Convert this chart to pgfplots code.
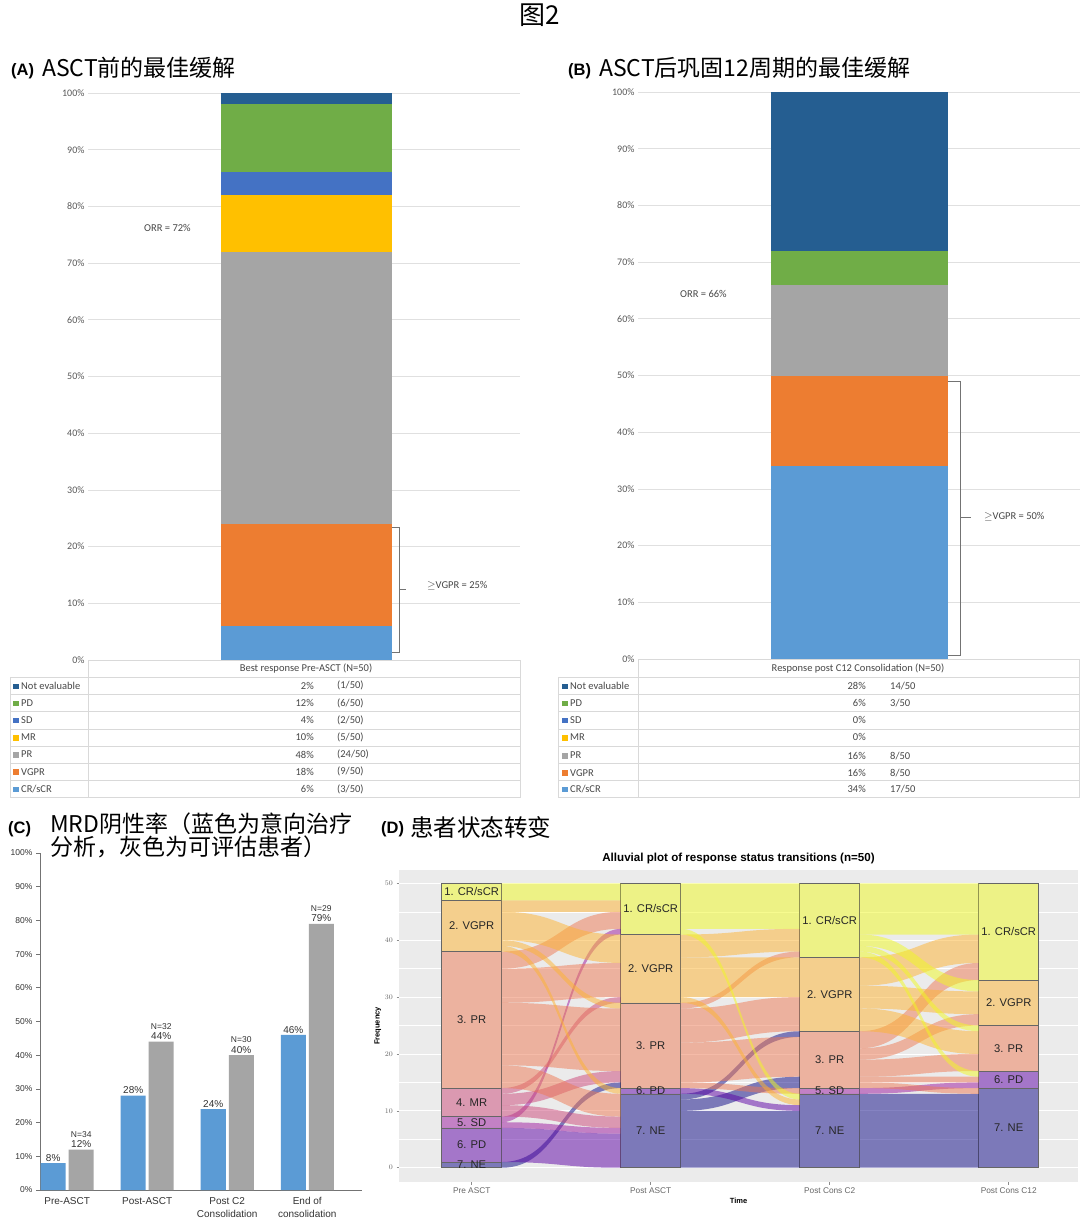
\documentclass[border=0pt]{standalone}
\usepackage{pgfplots}
\pgfplotsset{compat=1.18}
\usepackage{fontspec}
\setmainfont{Liberation Sans}
\newfontfamily\calib{Carlito}
\newfontfamily\cjk{Noto Sans CJK SC}
\newcommand\fs[1]{\fontsize{#1}{#1}\selectfont}
% Excel colours
\definecolor{cNE}{HTML}{255E91}
\definecolor{cPD}{HTML}{70AD47}
\definecolor{cSD}{HTML}{4472C4}
\definecolor{cMR}{HTML}{FFC000}
\definecolor{cPR}{HTML}{A5A5A5}
\definecolor{cVG}{HTML}{ED7D31}
\definecolor{cCR}{HTML}{5B9BD5}
% plasma colours
\definecolor{ggbg}{HTML}{EBEBEB}
\definecolor{pNE}{HTML}{0D0887}
\definecolor{pPD}{HTML}{5D01A6}
\definecolor{pSD}{HTML}{9C179E}
\definecolor{pMR}{HTML}{CC4778}
\definecolor{pPR}{HTML}{ED7953}
\definecolor{pVG}{HTML}{FDB32F}
\definecolor{pCR}{HTML}{F0F921}
\colorlet{sNE}{pNE!50!ggbg}
\colorlet{sPD}{pPD!50!ggbg}
\colorlet{sSD}{pSD!50!ggbg}
\colorlet{sMR}{pMR!50!ggbg}
\colorlet{sPR}{pPR!50!ggbg}
\colorlet{sVG}{pVG!50!ggbg}
\colorlet{sCR}{pCR!50!ggbg}
\tikzset{slab/.style={font=\fs{11.2}, text=black!85, inner sep=0pt}}

% table row: xname, xpct, xfrac, y, colour, name, pct, frac
\newcommand\trow[8]{%
 \node[anchor=west, font=\calib\fs{10.5}, text=black!72, inner sep=0] at (#1pt,-#4pt) {\textcolor{#5}{\rule[0.2pt]{5.5pt}{5.5pt}}\hspace{2.5pt}#6};
 \node[anchor=east, font=\calib\fs{10.5}, text=black!72, inner sep=0] at (#2pt,-#4pt) {#7};
 \node[anchor=west, font=\calib\fs{10.5}, text=black!72, inner sep=0] at (#3pt,-#4pt) {#8};}

% alluvial flow: x1, xmid, x2, src bottom, src top, dst bottom, dst top, colour
\newcommand\flowgen[8]{%
 \fill[#8, fill opacity=0.5] (axis cs:#1,#4) .. controls (axis cs:#2,#4) and (axis cs:#2,#6) .. (axis cs:#3,#6) -- (axis cs:#3,#7) .. controls (axis cs:#2,#7) and (axis cs:#2,#5) .. (axis cs:#1,#5) -- cycle;}
\newcommand\fA[5]{\flowgen{1.1676}{1.5}{1.8324}{#1}{#2}{#3}{#4}{#5}}
\newcommand\fB[5]{\flowgen{2.1676}{2.5}{2.8324}{#1}{#2}{#3}{#4}{#5}}
\newcommand\fC[5]{\flowgen{3.1676}{3.5}{3.8324}{#1}{#2}{#3}{#4}{#5}}
% stratum label placed in panel D's frame (stage, frequency, text)
\newcommand\dlab[3]{\node[slab] at ({(399+(#1-0.594)*179.02)*1pt},{(-1182+(#2+2.51)*5.688)*1pt}) {#3};}

\begin{document}
\begin{tikzpicture}
\path[fill=white, use as bounding box] (0,0) rectangle (1080pt,-1223pt);

\node[font=\cjk\fs{26}] at (540pt,-15pt) {图2};

%================ Panel A =================
\node[anchor=west, font=\bfseries\fs{16.5}, inner sep=0] at (11pt,-71pt) {(A)};
\node[anchor=west, font=\cjk\fs{23}, inner sep=0] at (42pt,-68pt) {ASCT前的最佳缓解};

\begin{axis}[at={(88pt,-660pt)}, anchor=south west, scale only axis,
  width=432pt, height=567pt, xmin=0, xmax=1, ymin=0, ymax=100,
  ybar stacked, bar width=171pt,
  xtick=\empty, ytick={0,10,...,100},
  yticklabels={0\%,10\%,20\%,30\%,40\%,50\%,60\%,70\%,80\%,90\%,100\%},
  axis line style={draw=none}, major tick length=0pt,
  ymajorgrids, grid style={black!12, line width=0.7pt},
  yticklabel style={font=\calib\fs{10}, text=black!65}, clip=false]
\addplot[fill=cCR, draw=none] coordinates {(0.506,6)};
\addplot[fill=cVG, draw=none] coordinates {(0.506,18)};
\addplot[fill=cPR, draw=none] coordinates {(0.506,48)};
\addplot[fill=cMR, draw=none] coordinates {(0.506,10)};
\addplot[fill=cSD, draw=none] coordinates {(0.506,4)};
\addplot[fill=cPD, draw=none] coordinates {(0.506,12)};
\addplot[fill=cNE, draw=none] coordinates {(0.506,2)};
\end{axis}
\draw[black!55, line width=0.6pt] (392pt,-527pt) -- (399pt,-527pt) -- (399pt,-652pt) -- (392pt,-652pt);
\draw[black!55, line width=0.6pt] (399pt,-589pt) -- (406pt,-589pt);
\node[anchor=west, font=\calib\fs{10.5}, text=black!72, inner sep=0] at (427pt,-586pt) {$\geq$VGPR = 25\%};
\node[anchor=west, font=\calib\fs{10.5}, text=black!72, inner sep=0] at (144pt,-228pt) {ORR = 72\%};

% table A
\draw[black!15, line width=0.6pt] (88pt,-660pt) -- (520pt,-660pt);
\foreach \k in {1,...,8} {\draw[black!15, line width=0.6pt] (10pt,{-660pt-17.2pt*\k}) -- (520pt,{-660pt-17.2pt*\k});}
\draw[black!15, line width=0.6pt] (10pt,-677.2pt) -- (10pt,-797.6pt);
\draw[black!15, line width=0.6pt] (88pt,-660pt) -- (88pt,-797.6pt);
\draw[black!15, line width=0.6pt] (520pt,-660pt) -- (520pt,-797.6pt);
\node[font=\calib\fs{10.5}, text=black!72, inner sep=0] at (306pt,-668.6pt) {Best response Pre-ASCT (N=50)};
\trow{13}{314}{337}{685.8}{cNE}{Not evaluable}{2\%}{(1/50)}
\trow{13}{314}{337}{703.0}{cPD}{PD}{12\%}{(6/50)}
\trow{13}{314}{337}{720.2}{cSD}{SD}{4\%}{(2/50)}
\trow{13}{314}{337}{737.4}{cMR}{MR}{10\%}{(5/50)}
\trow{13}{314}{337}{754.6}{cPR}{PR}{48\%}{(24/50)}
\trow{13}{314}{337}{771.8}{cVG}{VGPR}{18\%}{(9/50)}
\trow{13}{314}{337}{789.0}{cCR}{CR/sCR}{6\%}{(3/50)}

%================ Panel B =================
\node[anchor=west, font=\bfseries\fs{16.5}, inner sep=0] at (568pt,-71pt) {(B)};
\node[anchor=west, font=\cjk\fs{23}, inner sep=0] at (599pt,-68pt) {ASCT后巩固12周期的最佳缓解};

\begin{axis}[at={(638pt,-659pt)}, anchor=south west, scale only axis,
  width=442pt, height=567pt, xmin=0, xmax=1, ymin=0, ymax=100,
  ybar stacked, bar width=177pt,
  xtick=\empty, ytick={0,10,...,100},
  yticklabels={0\%,10\%,20\%,30\%,40\%,50\%,60\%,70\%,80\%,90\%,100\%},
  axis line style={draw=none}, major tick length=0pt,
  ymajorgrids, grid style={black!12, line width=0.7pt},
  yticklabel style={font=\calib\fs{10}, text=black!65}, clip=false]
\addplot[fill=cCR, draw=none] coordinates {(0.501,34)};
\addplot[fill=cVG, draw=none] coordinates {(0.501,16)};
\addplot[fill=cPR, draw=none] coordinates {(0.501,16)};
\addplot[fill=cMR, draw=none] coordinates {(0.501,0)};
\addplot[fill=cSD, draw=none] coordinates {(0.501,0)};
\addplot[fill=cPD, draw=none] coordinates {(0.501,6)};
\addplot[fill=cNE, draw=none] coordinates {(0.501,28)};
\end{axis}
\draw[black!55, line width=0.6pt] (948pt,-381pt) -- (960pt,-381pt) -- (960pt,-655pt) -- (948pt,-655pt);
\draw[black!55, line width=0.6pt] (960pt,-517pt) -- (971pt,-517pt);
\node[anchor=west, font=\calib\fs{10.5}, text=black!72, inner sep=0] at (984pt,-517pt) {$\geq$VGPR = 50\%};
\node[anchor=west, font=\calib\fs{10.5}, text=black!72, inner sep=0] at (680pt,-294pt) {ORR = 66\%};

% table B
\draw[black!15, line width=0.6pt] (638pt,-659pt) -- (1079pt,-659pt);
\foreach \k in {1,...,8} {\draw[black!15, line width=0.6pt] (558pt,{-660pt-17.2pt*\k}) -- (1079pt,{-660pt-17.2pt*\k});}
\draw[black!15, line width=0.6pt] (558pt,-677.2pt) -- (558pt,-797.6pt);
\draw[black!15, line width=0.6pt] (638pt,-659pt) -- (638pt,-797.6pt);
\draw[black!15, line width=0.6pt] (1079pt,-659pt) -- (1079pt,-797.6pt);
\node[font=\calib\fs{10.5}, text=black!72, inner sep=0] at (858pt,-668.6pt) {Response post C12 Consolidation (N=50)};
\trow{562}{866}{890}{685.8}{cNE}{Not evaluable}{28\%}{14/50}
\trow{562}{866}{890}{703.0}{cPD}{PD}{6\%}{3/50}
\trow{562}{866}{890}{720.2}{cSD}{SD}{0\%}{}
\trow{562}{866}{890}{737.4}{cMR}{MR}{0\%}{}
\trow{562}{866}{890}{755.6}{cPR}{PR}{16\%}{8/50}
\trow{562}{866}{890}{772.8}{cVG}{VGPR}{16\%}{8/50}
\trow{562}{866}{890}{789.0}{cCR}{CR/sCR}{34\%}{17/50}

%================ Panel C =================
\node[anchor=west, font=\bfseries\fs{16.5}, inner sep=0] at (8pt,-829pt) {(C)};
\node[anchor=north west, font=\cjk\fontsize{23}{21}\selectfont, align=left, inner sep=0] at (50pt,-813pt) {MRD阴性率（蓝色为意向治疗\\分析，灰色为可评估患者）};

\begin{axis}[at={(40pt,-1190pt)}, anchor=south west, scale only axis,
  width=322pt, height=337pt, xmin=-0.34, xmax=3.684, ymin=0, ymax=100,
  ybar=3pt, bar width=25pt,
  axis x line=bottom, axis y line=left,
  axis line style={-, draw=black!55, line width=0.8pt},
  xtick={0,1,2,3},
  xticklabels={Pre-ASCT, Post-ASCT, Post C2\\Consolidation, End of\\consolidation},
  xticklabel style={align=center, font=\fontsize{10}{12.5}\selectfont, text=black!80},
  x tick style={draw=none},
  ytick={0,10,...,100},
  yticklabels={0\%,10\%,20\%,30\%,40\%,50\%,60\%,70\%,80\%,90\%,100\%},
  yticklabel style={font=\fs{8.5}, text=black!80},
  y tick style={draw=black!55, line width=0.8pt}, tick align=outside, major tick length=4pt,
  nodes near coords, point meta=explicit symbolic,
  nodes near coords style={font=\fontsize{10}{10.5}\selectfont, text=black!80, align=center, inner sep=1.5pt},
  clip=false]
\addplot[fill=cCR, draw=none] coordinates {(0,8) [8\%] (1,28) [28\%] (2,24) [24\%] (3,46) [46\%]};
\addplot[fill=cPR, draw=none] coordinates {(0,12) [{\fs{8.5}N=34}\\12\%] (1,44) [{\fs{8.5}N=32}\\44\%] (2,40) [{\fs{8.5}N=30}\\40\%] (3,79) [{\fs{8.5}N=29}\\79\%]};
\end{axis}

%================ Panel D =================
\node[anchor=west, font=\bfseries\fs{16.5}, inner sep=0] at (381pt,-829pt) {(D)};
\node[anchor=west, font=\cjk\fs{23.5}, inner sep=0] at (410pt,-827pt) {患者状态转变};

\begin{axis}[at={(399pt,-1182pt)}, anchor=south west, scale only axis,
  width=679pt, height=312pt, xmin=0.594, xmax=4.387, ymin=-2.51, ymax=52.34,
  axis background/.style={fill=ggbg}, axis line style={draw=none},
  ybar stacked, bar width=60pt,
  xtick={1,2,3,4}, xticklabels={Pre ASCT,Post ASCT,Post Cons C2,Post Cons C12},
  ytick={0,10,...,50}, minor ytick={5,15,...,45},
  xtick pos=bottom, ytick pos=left,
  ymajorgrids, yminorgrids,
  major grid style={white, line width=0.9pt}, minor grid style={white, line width=0.45pt},
  tick align=outside, major tick length=2.5pt, minor tick length=0pt,
  tick style={draw=black!45, line width=0.5pt},
  ticklabel style={font=\fs{8.3}, text=black!60},
  yticklabel style={font=\fs{7.5}},
  xlabel={Time}, ylabel={Frequency},
  label style={font=\bfseries\fs{7.5}},
  xlabel style={yshift=3pt}, ylabel style={yshift=-3pt},
  title={Alluvial plot of response status transitions (n=50)},
  title style={font=\bfseries\fs{11.6}, yshift=-3pt}]
% Pre ASCT -> Post ASCT (source bottom, source top, target bottom, target top)
\fA{47}{50}{47}{50}{pCR}
\fA{45}{47}{45}{47}{pVG}
\fA{40}{45}{36}{41}{pVG}
\fA{39}{40}{28}{29}{pVG}
\fA{38}{39}{13}{14}{pVG}
\fA{35}{38}{42}{45}{pPR}
\fA{29}{35}{30}{36}{pPR}
\fA{18}{29}{17}{28}{pPR}
\fA{14}{18}{9}{13}{pPR}
\fA{13}{14}{29}{30}{pMR}
\fA{11}{13}{15}{17}{pMR}
\fA{9}{11}{7}{9}{pMR}
\fA{8}{9}{41}{42}{pSD}
\fA{7}{8}{6}{7}{pSD}
\fA{1}{7}{0}{6}{pPD}
\fA{0}{1}{14}{15}{pNE}
% Post ASCT -> Post Cons C2
\fB{42}{50}{42}{50}{pCR}
\fB{41}{42}{12}{13}{pCR}
\fB{37}{41}{38}{42}{pVG}
\fB{30}{37}{30}{37}{pVG}
\fB{29}{30}{11}{12}{pVG}
\fB{28}{29}{37}{38}{pPR}
\fB{22}{28}{24}{30}{pPR}
\fB{15}{22}{16}{23}{pPR}
\fB{14}{15}{13}{14}{pPR}
\fB{13}{14}{10}{11}{pPD}
\fB{12}{13}{23}{24}{pNE}
\fB{10}{12}{14}{16}{pNE}
\fB{0}{10}{0}{10}{pNE}
% Post Cons C2 -> Post Cons C12
\fC{41}{50}{41}{50}{pCR}
\fC{39}{41}{31}{33}{pCR}
\fC{38}{39}{24}{25}{pCR}
\fC{37}{38}{16}{17}{pCR}
\fC{32}{37}{36}{41}{pVG}
\fC{28}{32}{27}{31}{pVG}
\fC{24}{28}{20}{24}{pVG}
\fC{21}{24}{33}{36}{pPR}
\fC{19}{21}{25}{27}{pPR}
\fC{16}{19}{17}{20}{pPR}
\fC{15}{16}{15}{16}{pPR}
\fC{14}{15}{13}{14}{pPR}
\fC{13}{14}{14}{15}{pSD}
\fC{0}{13}{0}{13}{pNE}
% strata
\addplot[fill=sNE, draw=black!60, line width=0.5pt] coordinates {(1,1) (2,13) (3,13) (4,14)};
\addplot[fill=sPD, draw=black!60, line width=0.5pt] coordinates {(1,6) (2,1) (3,0) (4,3)};
\addplot[fill=sSD, draw=black!60, line width=0.5pt] coordinates {(1,2) (2,0) (3,1) (4,0)};
\addplot[fill=sMR, draw=black!60, line width=0.5pt] coordinates {(1,5) (2,0) (3,0) (4,0)};
\addplot[fill=sPR, draw=black!60, line width=0.5pt] coordinates {(1,24) (2,15) (3,10) (4,8)};
\addplot[fill=sVG, draw=black!60, line width=0.5pt] coordinates {(1,9) (2,12) (3,13) (4,8)};
\addplot[fill=sCR, draw=black!60, line width=0.5pt] coordinates {(1,3) (2,9) (3,13) (4,17)};
\end{axis}
% stratum labels (panel D frame: x 399..1078 = 0.594..4.387, y 1182..870 = -2.51..52.34)
\dlab{1}{48.5}{1. CR/sCR}
\dlab{1}{42.5}{2. VGPR}
\dlab{1}{26}{3. PR}
\dlab{1}{11.5}{4. MR}
\dlab{1}{8}{5. SD}
\dlab{1}{4}{6. PD}
\dlab{1}{0.5}{7. NE}
\dlab{2}{45.5}{1. CR/sCR}
\dlab{2}{35}{2. VGPR}
\dlab{2}{21.5}{3. PR}
\dlab{2}{13.5}{6. PD}
\dlab{2}{6.5}{7. NE}
\dlab{3}{43.5}{1. CR/sCR}
\dlab{3}{30.5}{2. VGPR}
\dlab{3}{19}{3. PR}
\dlab{3}{13.5}{5. SD}
\dlab{3}{6.5}{7. NE}
\dlab{4}{41.5}{1. CR/sCR}
\dlab{4}{29}{2. VGPR}
\dlab{4}{21}{3. PR}
\dlab{4}{15.5}{6. PD}
\dlab{4}{7}{7. NE}
\end{tikzpicture}
\end{document}
